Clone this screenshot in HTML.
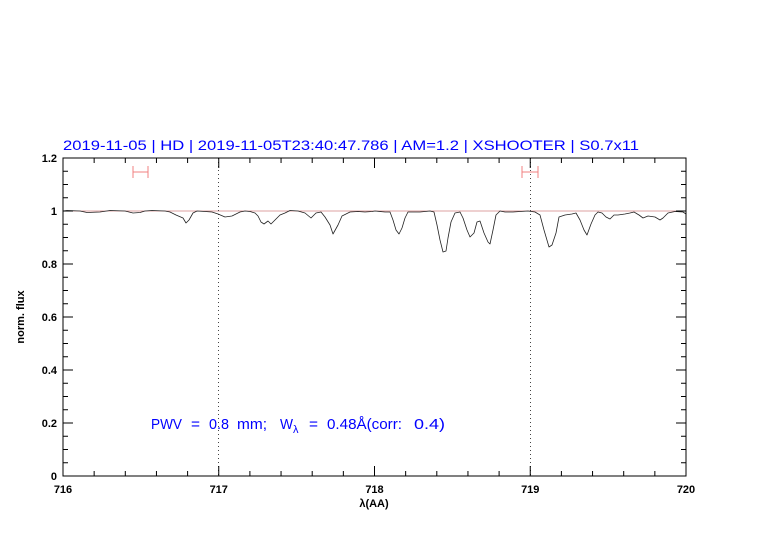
<!DOCTYPE html>
<html><head><style>body{margin:0;background:#fff}svg{display:block}</style></head><body>
<svg width="782" height="542" xmlns="http://www.w3.org/2000/svg" font-family="Liberation Sans, sans-serif">
<rect width="782" height="542" fill="#fff"/>
<text x="63" y="150" font-size="14" fill="#0000ff" textLength="576" lengthAdjust="spacingAndGlyphs">2019-11-05 | HD | 2019-11-05T23:40:47.786 | AM=1.2 | XSHOOTER | S0.7x11</text>
<line x1="63" y1="211" x2="686" y2="211" stroke="#d08080" stroke-width="0.7"/>
<g stroke="#444" stroke-width="1" stroke-dasharray="1,3"><line x1="218.5" y1="158" x2="218.5" y2="476"/><line x1="530.5" y1="158" x2="530.5" y2="476"/></g>
<g stroke="#f08080" stroke-width="1"><line x1="133" y1="172" x2="148" y2="172"/><line x1="133" y1="166" x2="133" y2="178"/><line x1="148" y1="166" x2="148" y2="178"/>
<line x1="522" y1="172" x2="538" y2="172"/><line x1="522" y1="166" x2="522" y2="178"/><line x1="538" y1="166" x2="538" y2="178"/></g>
<polyline fill="none" stroke="#222" stroke-width="0.8" stroke-linejoin="round" points="63,211 67,210.5 80,211 87,212.5 100,212 110,210.5 125,211 133,213 140,212.5 145,211 152,210.5 165,211 170,212 176,215 183,218 186,223 189,220 193,213 197,211 205,211.5 212,212 218,214 225,217 232,216 240,212 245,211 250,211.5 255,213 258,216 261,222 264,224 268,221 271,224 275,220 280,215 285,213 290,210.5 298,211 305,213 311,218 316,213 321,212 325,217 330,225 333,234 338,225 342,216 346,214 350,212 358,211.5 365,212 372,211.5 375,211 385,212 390,212 393,220 396,230 399,234 402,228 405,218 408,212 420,212 430,211 434,212 437,225 440,240 443,252 446,251 448,238 451,222 455,213 460,212 463,218 467,230 470,237 474,233 477,222 480,221 484,233 488,242 490,244 493,230 496,215 500,211 505,212 513,212 520,211.5 528,211 535,212 540,215 544,230 549,247 552,245 556,233 559,217 565,215 572,214 576,213 580,220 584,230 587,235 591,224 595,215 598,212 602,213 606,217 610,219 614,215 618,215 625,214 630,213 634,212 639,215 643,218 648,216 655,217 660,220 663,218 668,213 675,211.5 683,212 686,214"/>
<rect x="63" y="158" width="623" height="318" fill="none" stroke="#000" stroke-width="1"/>
<g stroke="#000" stroke-width="1">
<path d="M94.15,476v-5M125.3,476v-5M156.45,476v-5M187.6,476v-5M249.9,476v-5M281.05,476v-5M312.2,476v-5M343.35,476v-5M405.65,476v-5M436.8,476v-5M467.95,476v-5M499.1,476v-5M561.4,476v-5M592.55,476v-5M623.7,476v-5M654.85,476v-5M218.75,476v-10M374.5,476v-10M530.25,476v-10
M94.15,158v5M125.3,158v5M156.45,158v5M187.6,158v5M249.9,158v5M281.05,158v5M312.2,158v5M343.35,158v5M405.65,158v5M436.8,158v5M467.95,158v5M499.1,158v5M561.4,158v5M592.55,158v5M623.7,158v5M654.85,158v5M218.75,158v10M374.5,158v10M530.25,158v10"/>
<path d="M63,423h10M63,370h10M63,317h10M63,264h10M63,211h10M686,423h-10M686,370h-10M686,317h-10M686,264h-10M686,211h-10
M63,462.75h5M63,449.5h5M63,436.25h5M63,409.75h5M63,396.5h5M63,383.25h5M63,356.75h5M63,343.5h5M63,330.25h5M63,303.75h5M63,290.5h5M63,277.25h5M63,250.75h5M63,237.5h5M63,224.25h5M63,197.75h5M63,184.5h5M63,171.25h5
M686,462.75h-5M686,449.5h-5M686,436.25h-5M686,409.75h-5M686,396.5h-5M686,383.25h-5M686,356.75h-5M686,343.5h-5M686,330.25h-5M686,303.75h-5M686,290.5h-5M686,277.25h-5M686,250.75h-5M686,237.5h-5M686,224.25h-5M686,197.75h-5M686,184.5h-5M686,171.25h-5"/>
</g>
<g font-size="11" font-weight="bold" fill="#000" text-anchor="middle">
<text x="63" y="493">716</text><text x="218.75" y="493">717</text><text x="374.5" y="493">718</text><text x="530.25" y="493">719</text><text x="686" y="493">720</text>
<text x="374" y="507">λ(AA)</text>
</g>
<g font-size="11" font-weight="bold" fill="#000" text-anchor="end">
<text x="57" y="480">0</text><text x="57" y="427">0.2</text><text x="57" y="374">0.4</text><text x="57" y="321">0.6</text><text x="57" y="268">0.8</text><text x="57" y="215">1</text><text x="57" y="162">1.2</text>
</g>
<text transform="translate(24,317) rotate(-90)" font-size="11" font-weight="bold" text-anchor="middle">norm. flux</text>
<g font-size="15" fill="#0000ff" lengthAdjust="spacingAndGlyphs">
<text x="151" y="429" textLength="31" lengthAdjust="spacingAndGlyphs">PWV</text><text x="191" y="429" textLength="9" lengthAdjust="spacingAndGlyphs">=</text><text x="209" y="429" textLength="20" lengthAdjust="spacingAndGlyphs">0.8</text><text x="237" y="429" textLength="30" lengthAdjust="spacingAndGlyphs">mm;</text><text x="280" y="429" textLength="13" lengthAdjust="spacingAndGlyphs">W</text>
<text x="293" y="433" font-size="11">λ</text>
<text x="309" y="429" textLength="9" lengthAdjust="spacingAndGlyphs">=</text><text x="327" y="429" textLength="75" lengthAdjust="spacingAndGlyphs">0.48Å(corr:</text><text x="414" y="429" textLength="31" lengthAdjust="spacingAndGlyphs">0.4)</text>
</g>
</svg>
</body></html>
